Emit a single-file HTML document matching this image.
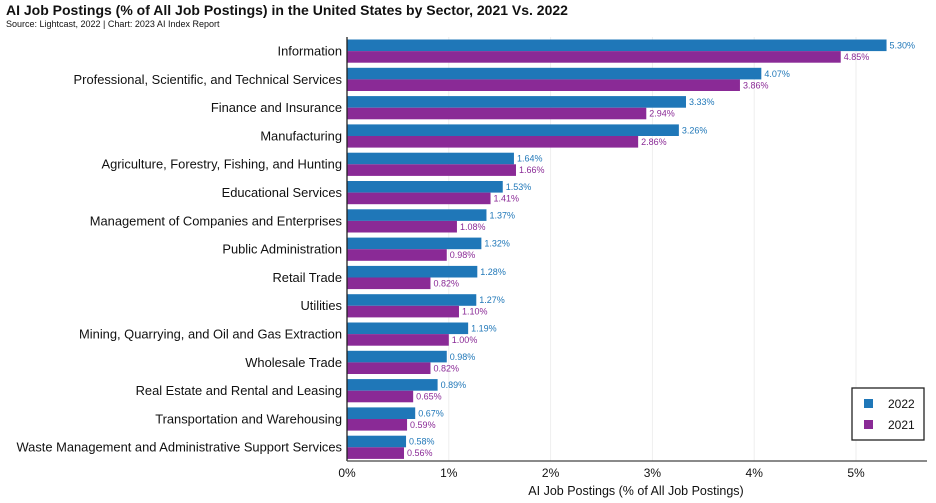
<!DOCTYPE html>
<html><head><meta charset="utf-8"><style>
body{margin:0;background:#fff;}
svg text{font-family:"Liberation Sans",sans-serif;}
</style></head><body>
<svg width="936" height="498" xmlns="http://www.w3.org/2000/svg">
<text x="6" y="15" font-size="14" font-weight="bold" fill="#111">AI Job Postings (% of All Job Postings) in the United States by Sector, 2021 Vs. 2022</text>
<text x="6" y="27" font-size="9" fill="#111">Source: Lightcast, 2022 | Chart: 2023 AI Index Report</text>
<g id="grid" stroke="#eee" stroke-width="1"></g>
<g id="bars"></g>
<line x1="347" y1="37" x2="347" y2="461" stroke="#222" stroke-width="1.3"/>
<line x1="347" y1="461" x2="927" y2="461" stroke="#444" stroke-width="1.3"/>
<g id="ticks" font-size="12" fill="#111" text-anchor="middle"></g>
<text x="636" y="495" font-size="12.5" text-anchor="middle" fill="#111">AI Job Postings (% of All Job Postings)</text>
<rect x="852" y="388" width="72" height="52" fill="#fff" stroke="#222" stroke-width="1.3"/>
<rect x="864" y="399" width="9" height="9" fill="#1f77b8"/>
<text x="888" y="408" font-size="12" fill="#111">2022</text>
<rect x="864" y="420" width="9" height="9" fill="#8a2a96"/>
<text x="888" y="429" font-size="12" fill="#111">2021</text>
<script>
var d=[["Information",5.30,4.85],["Professional, Scientific, and Technical Services",4.07,3.86],["Finance and Insurance",3.33,2.94],["Manufacturing",3.26,2.86],["Agriculture, Forestry, Fishing, and Hunting",1.64,1.66],["Educational Services",1.53,1.41],["Management of Companies and Enterprises",1.37,1.08],["Public Administration",1.32,0.98],["Retail Trade",1.28,0.82],["Utilities",1.27,1.10],["Mining, Quarrying, and Oil and Gas Extraction",1.19,1.00],["Wholesale Trade",0.98,0.82],["Real Estate and Rental and Leasing",0.89,0.65],["Transportation and Warehousing",0.67,0.59],["Waste Management and Administrative Support Services",0.58,0.56]];
var ns="http://www.w3.org/2000/svg",x0=347,s=101.8;
function el(t,a,p,txt){var e=document.createElementNS(ns,t);for(var k in a)e.setAttribute(k,a[k]);if(txt)e.textContent=txt;document.getElementById(p).appendChild(e);}
for(var i=0;i<=5;i++){var x=x0+i*s;if(i>0)el("line",{x1:x,y1:37,x2:x,y2:461},"grid");el("text",{x:x,y:477},"ticks",i+"%");}
d.forEach(function(r,i){var y=39.5+28.3*i;
el("rect",{x:x0,y:y,width:r[1]*s,height:11.6,fill:"#1f77b8"},"bars");
el("rect",{x:x0,y:y+11.6,width:r[2]*s,height:11.6,fill:"#8a2a96"},"bars");
el("text",{x:x0+r[1]*s+3,y:y+9,"font-size":"9",fill:"#1f77b8"},"bars",r[1].toFixed(2)+"%");
el("text",{x:x0+r[2]*s+3,y:y+20.5,"font-size":"9",fill:"#8a2a96"},"bars",r[2].toFixed(2)+"%");
el("text",{x:342,y:y+16,"font-size":"12.9",fill:"#111","text-anchor":"end"},"bars",r[0]);});
</script>
</svg>
</body></html>
